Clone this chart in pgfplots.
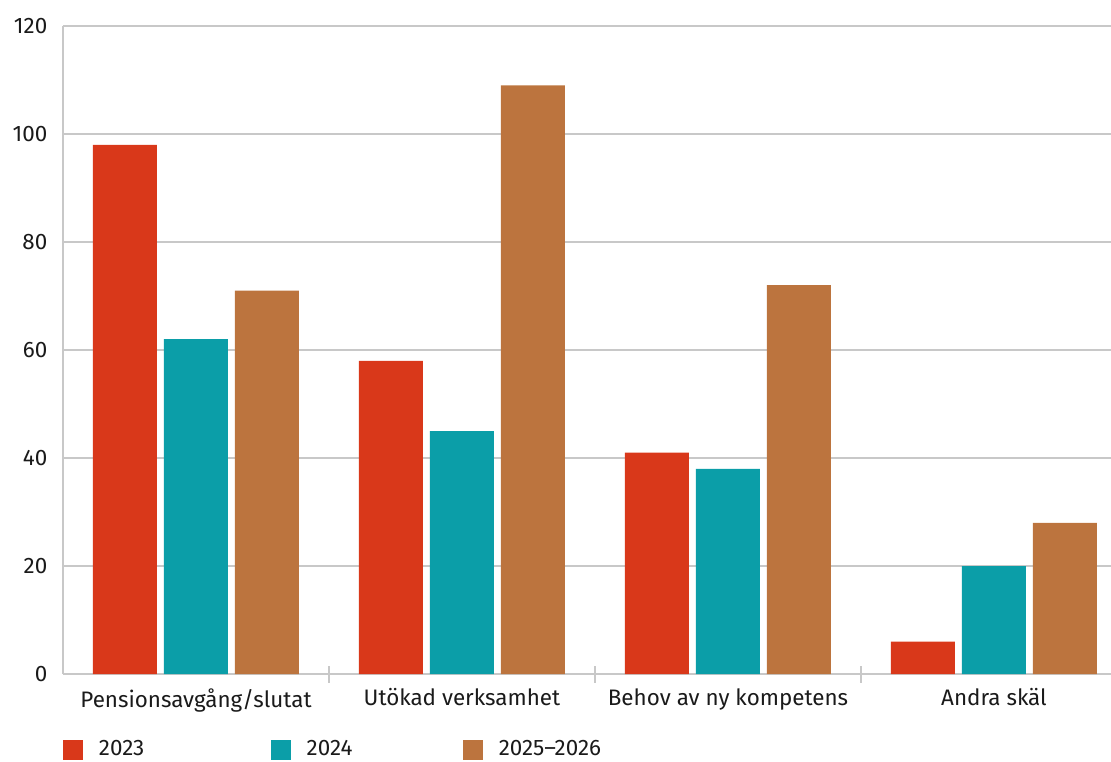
\documentclass[border=0pt]{standalone}
\usepackage{pgfplots}
\pgfplotsset{compat=1.18}
\usepackage{fontspec}
\setmainfont{Fira Sans}
\definecolor{cA}{HTML}{D9381A}
\definecolor{cB}{HTML}{0B9EA8}
\definecolor{cC}{HTML}{BC743E}
\definecolor{gridc}{HTML}{C8C8C8}
\definecolor{txt}{HTML}{1A1A1A}
\begin{document}
\fontsize{16.8pt}{19pt}\selectfont
\begin{tikzpicture}
\begin{axis}[
  scale only axis,
  width=786pt, height=486pt,
  ybar=5.25pt, bar width=48pt,
  xmin=-0.5, xmax=3.44,
  ymin=0, ymax=120,
  ytick={0,20,...,120},
  xtick={0,1,2,3},
  xticklabels={Pensionsavgång/slutat, Utökad verksamhet, Behov av ny kompetens, Andra skäl},
  minor xtick={0.5,1.5,2.5},
  major tick length=0pt,
  minor tick length=12.75pt,
  tick align=inside,
  minor tick style={gridc, line width=0.9pt},
  axis x line=bottom, axis y line=left,
  axis line style={gridc, line width=1.1pt, -},
  ymajorgrids=true,
  grid style={gridc, line width=0.9pt},
  clip=false,
  tick label style={font=\fontsize{16.8pt}{19pt}\selectfont, text=txt},
  /pgf/number format/assume math mode=true,
  yticklabel style={xshift=-6pt},
  xticklabel style={yshift=-5pt},
  legend style={at={(axis description cs:0,-0.1173)}, anchor=west, draw=none, fill=none,
    legend columns=3, font=\fontsize{16.8pt}{19pt}\selectfont, text=txt, inner sep=0pt,
    /tikz/column 1/.style={column sep=9.75pt},
    /tikz/column 3/.style={column sep=9.75pt},
    /tikz/column 5/.style={column sep=9.75pt},
    /tikz/column 2/.style={column sep=93pt},
    /tikz/column 4/.style={column sep=81pt}},
  legend image code/.code={\fill[#1] (0pt,-7.5pt) rectangle (15pt,7.5pt);},
  legend cell align=left,
]
\addplot[fill=cA, draw=none] coordinates {(0,98) (1,58) (2,41) (3,6)};
\addplot[fill=cB, draw=none] coordinates {(0,62) (1,45) (2,38) (3,20)};
\addplot[fill=cC, draw=none] coordinates {(0,71) (1,109) (2,72) (3,28)};
\legend{2023, 2024, 2025–2026}
\end{axis}
\pgfresetboundingbox
\path (-47.25pt,-65.25pt) rectangle (786pt,505.5pt);
\end{tikzpicture}
\end{document}
